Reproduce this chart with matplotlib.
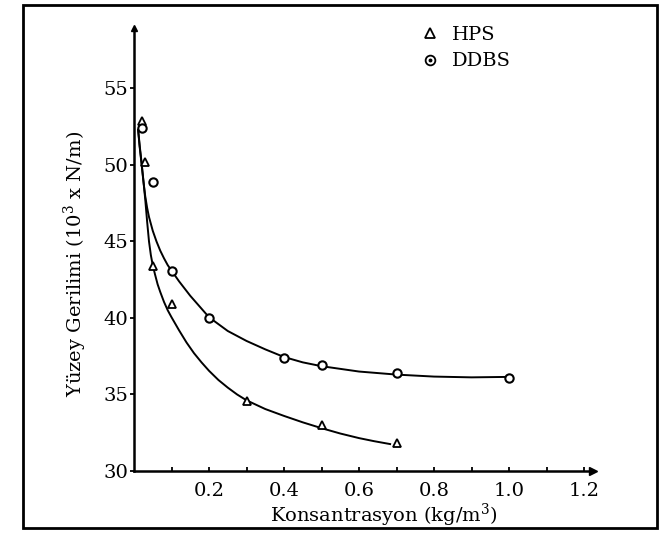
import numpy as np
import matplotlib
matplotlib.use("Agg")
import matplotlib.pyplot as plt
from matplotlib.lines import Line2D
from matplotlib.legend_handler import HandlerTuple
from matplotlib.patches import Rectangle

plt.rcParams['font.family'] = ['DejaVu Serif']
plt.rcParams['mathtext.fontset'] = 'dejavuserif'

# ---- veri ----
hps_x = [0.02, 0.03, 0.05, 0.10, 0.30, 0.50, 0.70]
hps_y = [52.9, 50.2, 43.4, 40.9, 34.6, 33.0, 31.8]

ddbs_x = [0.02, 0.05, 0.10, 0.20, 0.40, 0.50, 0.70, 1.00]
ddbs_y = [52.4, 48.9, 43.1, 40.0, 37.4, 36.9, 36.4, 36.1]

# elle çizilmiş eğriler boyunca okunan noktalar
hps_curve_x = [0.011, 0.015, 0.020, 0.025, 0.030, 0.035, 0.040, 0.045, 0.050,
               0.056, 0.063, 0.070, 0.080, 0.090, 0.100, 0.120, 0.140, 0.160,
               0.180, 0.200, 0.225, 0.250, 0.275, 0.300, 0.350, 0.400, 0.450,
               0.500, 0.550, 0.600, 0.640, 0.683]
hps_curve_y = [52.3, 51.3, 50.2, 49.0, 47.75, 46.3, 45.0, 44.1, 43.45,
               42.85, 42.2, 41.7, 41.05, 40.5, 40.05, 39.2, 38.4, 37.7,
               37.1, 36.55, 35.95, 35.45, 35.0, 34.62, 34.05, 33.6, 33.18,
               32.8, 32.45, 32.15, 31.95, 31.76]

ddbs_curve_x = [0.011, 0.015, 0.020, 0.025, 0.030, 0.035, 0.040, 0.050, 0.060,
                0.070, 0.080, 0.090, 0.100, 0.120, 0.150, 0.200, 0.250, 0.300,
                0.350, 0.400, 0.450, 0.500, 0.600, 0.700, 0.800, 0.900, 1.000]
ddbs_curve_y = [52.3, 51.2, 50.1, 48.95, 47.95, 47.2, 46.6, 45.7, 45.0,
                44.4, 43.9, 43.45, 43.1, 42.4, 41.45, 40.05, 39.15, 38.5,
                37.95, 37.45, 37.1, 36.85, 36.5, 36.3, 36.17, 36.12, 36.15]

x_ticks = [0.1 * i for i in range(1, 13)]
x_labels = ['', '0.2', '', '0.4', '', '0.6', '', '0.8', '', '1.0', '', '1.2']
y_ticks = [30, 35, 40, 45, 50, 55]

fig = plt.figure(figsize=(6.61, 5.36), dpi=100)
ax = fig.add_axes([134 / 661, 1 - 471 / 536, 459 / 661, 443 / 536])

# eğriler
ax.plot(hps_curve_x, hps_curve_y, color='black', linewidth=1.4)
ax.plot(ddbs_curve_x, ddbs_curve_y, color='black', linewidth=1.4)

# ölçüm noktaları
ax.plot(hps_x, hps_y, linestyle='none', marker='^', markersize=6,
        markerfacecolor='white', markeredgecolor='black', markeredgewidth=1.3)
ax.plot(ddbs_x, ddbs_y, linestyle='none', marker='o', markersize=6,
        markerfacecolor='white', markeredgecolor='black', markeredgewidth=1.5)

ax.set_xlim(0, 1.224)
ax.set_ylim(30, 58.95)
ax.set_xticks(x_ticks)
ax.set_xticklabels(x_labels)
ax.set_yticks(y_ticks)

for side in ['top', 'right']:
    ax.spines[side].set_visible(False)
for side in ['left', 'bottom']:
    ax.spines[side].set_linewidth(1.8)

ax.tick_params(axis='x', direction='in', length=3, width=1.3, pad=8, labelsize=14)
ax.tick_params(axis='y', direction='out', length=3, width=1.3, pad=1, labelsize=14)

# eksen okları
ax.plot(1, 0, marker='>', markersize=6, color='black',
        transform=ax.transAxes, clip_on=False)
ax.plot(0, 1, marker='^', markersize=4, color='black',
        transform=ax.transAxes, clip_on=False)

ax.set_xlabel('Konsantrasyon (kg/m$^3$)', fontsize=14)
ax.set_ylabel('Yüzey Gerilimi (10$^3$ x N/m)', fontsize=14)
ax.xaxis.set_label_coords(0.545, -0.07)
ax.yaxis.set_label_coords(-0.097, 0.467)

# gösterge
h_hps = Line2D([], [], linestyle='none', marker='^', markersize=7,
               markerfacecolor='white', markeredgecolor='black', markeredgewidth=1.3)
h_circ = Line2D([], [], linestyle='none', marker='o', markersize=7,
                markerfacecolor='white', markeredgecolor='black', markeredgewidth=1.3)
h_dot = Line2D([], [], linestyle='none', marker='o', markersize=1.8, color='black')
ax.legend([h_hps, (h_circ, h_dot)], ['HPS', 'DDBS'],
          handler_map={tuple: HandlerTuple(ndivide=1, pad=0)},
          loc='upper left', bbox_to_anchor=(409 / 661, 1 - 16 / 536),
          bbox_transform=fig.transFigure, frameon=False, fontsize=14,
          handlelength=1.2, handletextpad=0.5, labelspacing=0.45, borderpad=0)

# çerçeve
fig.patches.append(Rectangle((23 / 661, 1 - 528 / 536), 634 / 661, 523 / 536,
                             transform=fig.transFigure, fill=False,
                             edgecolor='black', linewidth=2))

fig.savefig('out.png', dpi=100)
